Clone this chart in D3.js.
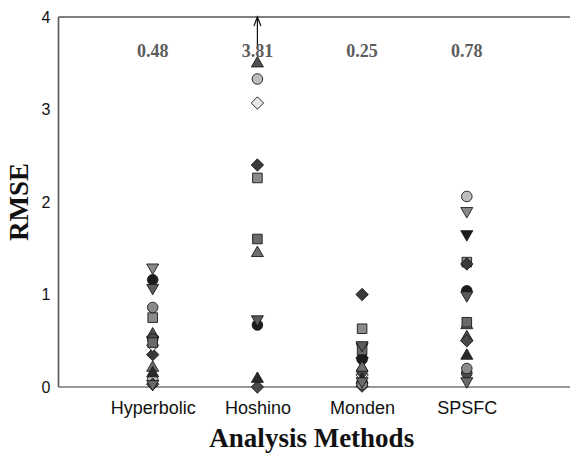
<!DOCTYPE html>
<html><head><meta charset="utf-8">
<script src="https://cdn.jsdelivr.net/npm/d3@7"></script>
<style>body{margin:0;background:#fff}</style></head>
<body><svg id="c" width="570" height="456"></svg>
<script>
const methods = ["Hyperbolic","Hoshino","Monden","SPSFC"];
const meanLabels = ["0.48","3.81","0.25","0.78"];
const yTicks = [0,1,2,3,4];
// one entry per data set (marker style)
const seriesShapes = ["circle","triDown","triDown","square","diamond","triUp","diamond","circle","circle","triUp","square","diamond","triUp","circle","triDown","triDown"];
const seriesFills  = ["#bdbdbd","#8a8a8a","#1c1c1c","#8a8a8a","#3a3a3a","#505050","#e8e8e8","#1c1c1c","#4a4a4a","#6e6e6e","#6a6a6a","#4a4a4a","#2a2a2a","#8a8a8a","#5a5a5a","#6a6a6a"];
// RMSE per data set, per method (null = not shown)
const hyperbolic = [0.08,1.28,0.50,0.75,0.35,0.58,0.45,1.16,0.52,0.22,0.48,0.03,0.16,0.86,1.06,0.02];
const hoshino    = [3.33,null,null,2.26,2.40,3.51,3.07,0.67,4.60,1.46,1.60,0.00,0.10,null,0.72,null];
const monden     = [0.05,0.42,0.27,0.63,1.00,0.36,0.13,0.30,0.17,0.22,0.40,0.01,0.09,0.03,0.44,0.05];
const spsfc      = [2.06,1.89,1.64,1.35,1.33,0.55,null,1.04,0.15,0.68,0.70,0.50,0.35,0.20,0.98,0.05];
const methodValues = [hyperbolic, hoshino, monden, spsfc];

const svg = d3.select("#c");
const x = d3.scaleLinear().domain([0,5]).range([48, 571.5]);
const y = d3.scaleLinear().domain([0,4]).range([387,17]);
const frameX = 58.5;

// frame
const frame = svg.append("g").attr("stroke","#555").attr("stroke-width",1.6).attr("fill","none");
frame.append("line").attr("x1",frameX).attr("x2",570).attr("y1",y(4)).attr("y2",y(4));
frame.append("line").attr("x1",frameX).attr("x2",570).attr("y1",y(0)).attr("y2",y(0)).attr("stroke","#777");
frame.append("line").attr("x1",frameX).attr("x2",frameX).attr("y1",y(4)).attr("y2",y(0));

// y axis
const ya = svg.append("g").attr("transform",`translate(${frameX},0)`)
  .call(d3.axisLeft(y).tickValues(yTicks).tickSize(0).tickPadding(8).tickFormat(d3.format("d")));
ya.select(".domain").remove();
ya.selectAll("text").attr("font-family","Liberation Sans, Arial, sans-serif").attr("font-size",16).attr("fill","#111");

// x axis
const xa = svg.append("g").attr("transform",`translate(0,${y(0)})`)
  .call(d3.axisBottom(x).tickValues([1,2,3,4]).tickSize(0).tickPadding(14).tickFormat((d,i)=>methods[i]));
xa.select(".domain").remove();
xa.selectAll("text").attr("font-family","Liberation Sans, Arial, sans-serif").attr("font-size",18).attr("fill","#111");

// titles
svg.append("text").attr("x",x(2.5)+2).attr("y",447).attr("text-anchor","middle")
  .attr("font-family","Liberation Serif, Times New Roman, serif").attr("font-weight","bold").attr("font-size",27).attr("fill","#111")
  .text("Analysis Methods");
svg.append("text").attr("transform",`translate(28,${y(2)}) rotate(-90)`).attr("text-anchor","middle")
  .attr("font-family","Liberation Serif, Times New Roman, serif").attr("font-weight","bold").attr("font-size",27).attr("fill","#111")
  .text("RMSE");

// mean labels
svg.append("g").selectAll("text").data(meanLabels).join("text")
  .attr("x",(d,i)=>x(i+1)).attr("y",57).attr("text-anchor","middle")
  .attr("font-family","Liberation Serif, Times New Roman, serif").attr("font-weight","bold").attr("font-size",18).attr("fill","#5c5c5c")
  .text(d=>d);

function shapePath(shape, cx, cy){
  switch(shape){
    case "circle": { const r=5.3; return `M${cx-r},${cy}a${r},${r} 0 1,0 ${2*r},0a${r},${r} 0 1,0 ${-2*r},0Z`; }
    case "square": { const h=4.8; return `M${cx-h},${cy-h}H${cx+h}V${cy+h}H${cx-h}Z`; }
    case "diamond": { const h=6.2; return `M${cx},${cy-h}L${cx+h},${cy}L${cx},${cy+h}L${cx-h},${cy}Z`; }
    case "triUp": return `M${cx},${cy-5.8}L${cx+6},${cy+4.6}L${cx-6},${cy+4.6}Z`;
    case "triDown": return `M${cx},${cy+5.8}L${cx+6},${cy-4.6}L${cx-6},${cy-4.6}Z`;
  }
}

const pts = [];
seriesShapes.forEach((s,si)=>{
  methodValues.forEach((vals,mi)=>{
    const v = vals[si];
    if(v!==null && v<=4) pts.push({shape:s, fill:seriesFills[si], m:mi+1, v});
  });
});
svg.append("g").selectAll("path").data(pts).join("path")
  .attr("d",d=>shapePath(d.shape, x(d.m), y(d.v)))
  .attr("fill",d=>d.fill).attr("stroke","#1a1a1a").attr("stroke-width",0.9);

// off-scale arrows
const off = [];
methodValues.forEach((vals,mi)=>vals.forEach(v=>{ if(v!==null && v>4) off.push(mi+1); }));
const ag = svg.append("g").attr("stroke","#111").attr("stroke-width",1.2).attr("fill","none");
off.forEach(m=>{
  const ax = x(m);
  ag.append("line").attr("x1",ax).attr("x2",ax).attr("y1",y(4)+28).attr("y2",y(4));
  ag.append("path").attr("d",`M${ax-3.5},${y(4)+9}L${ax},${y(4)}L${ax+3.5},${y(4)+9}`);
});
</script>
</body></html>
